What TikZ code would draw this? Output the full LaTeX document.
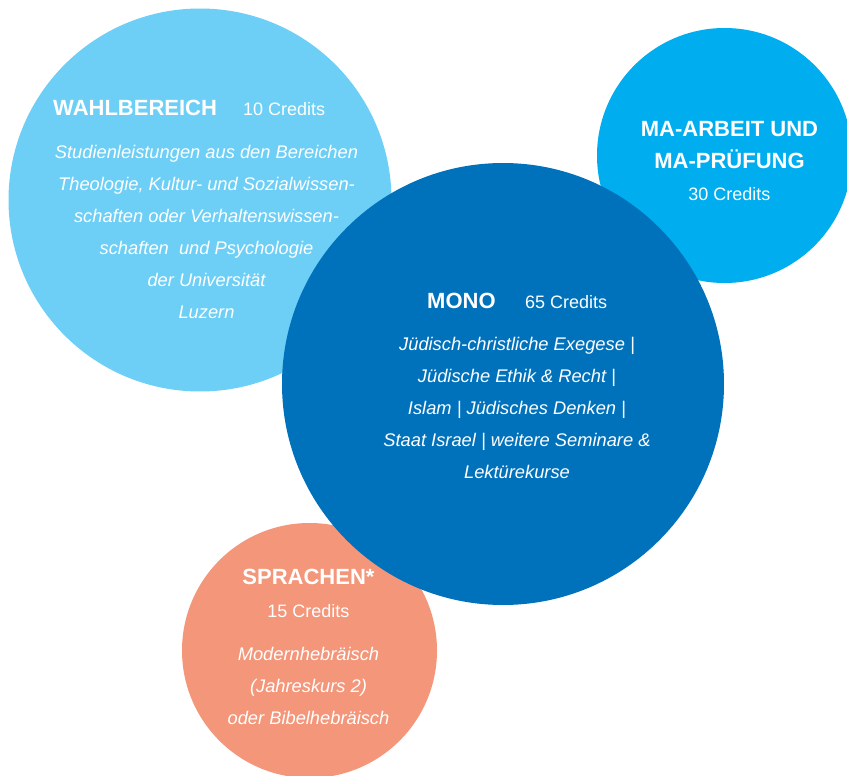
\documentclass[tikz,border=0pt]{standalone}
\usepackage{fontspec}
\setmainfont{Liberation Sans}
\definecolor{cLight}{HTML}{6DCFF6}
\definecolor{cMA}{HTML}{00AEEF}
\definecolor{cMono}{HTML}{0072BC}
\definecolor{cSpr}{HTML}{F4967A}
\begin{document}
\begin{tikzpicture}[x=1pt,y=-1pt,
  bubble/.style={circle,inner sep=0pt,outer sep=0pt},
  ttl/.style={inner sep=0pt,text=white,font=\fontsize{22}{24}\selectfont\bfseries},
  cred/.style={inner sep=0pt,text=white,font=\fontsize{18}{20}\selectfont},
  desc/.style={inner sep=0pt,text=white,font=\fontsize{18.3}{20}\selectfont\itshape}]
\useasboundingbox (0,0) rectangle (847,776);
\begin{scope}
\clip (0,0) rectangle (847,776);
\fill[cLight] (200,200) circle (191.5);
\fill[cMA] (724.5,155.5) circle (127.5);
\fill[cSpr] (309.5,650.5) circle (127.5);
\fill[cMono] (503,384) circle (221);
\end{scope}
\node[bubble,minimum size=383] (wahl) at (200,200) {};
\node[bubble,minimum size=255] (ma) at (724.5,155.5) {};
\node[bubble,minimum size=255] (spr) at (309.5,650.5) {};
\node[bubble,minimum size=442] (mono) at (503,384) {};
% Wahlbereich
\node[ttl,anchor=base west] (wt) at (53,115) {WAHLBEREICH};
\node[cred,anchor=base west] (wc) at (243,115) {10 Credits};
\node[desc,anchor=base] (w1) at (206.5,158) {Studienleistungen aus den Bereichen};
\node[desc,anchor=base] (w2) at (206.5,190) {Theologie, Kultur- und Sozialwissen-};
\node[desc,anchor=base] (w3) at (206.5,222) {schaften oder Verhaltenswissen-};
\node[desc,anchor=base] (w4) at (206.5,254) {schaften\ \ und Psychologie};
\node[desc,anchor=base] (w5) at (206.5,286) {der Universität};
\node[desc,anchor=base] (w6) at (206.5,318) {Luzern};
% MA
\node[ttl,anchor=base] (m1) at (729.5,136.5) {MA-ARBEIT UND};
\node[ttl,anchor=base] (m2) at (729.5,168) {MA-PRÜFUNG};
\node[cred,anchor=base] (m3) at (729.5,200) {30 Credits};
% Mono
\node[ttl,anchor=base west] (ot) at (427,308) {MONO};
\node[cred,anchor=base west] (oc) at (525,308) {65 Credits};
\node[desc,anchor=base] (o1) at (517,350) {Jüdisch-christliche Exegese |};
\node[desc,anchor=base] (o2) at (517,382) {Jüdische Ethik \& Recht |};
\node[desc,anchor=base] (o3) at (517,414) {Islam | Jüdisches Denken |};
\node[desc,anchor=base] (o4) at (517,446) {Staat Israel | weitere Seminare \&};
\node[desc,anchor=base] (o5) at (517,478) {Lektürekurse};
% Sprachen
\node[ttl,anchor=base] (st) at (308.5,584) {SPRACHEN*};
\node[cred,anchor=base] (sc) at (308.5,617) {15 Credits};
\node[desc,anchor=base] (s1) at (308.5,660) {Modernhebräisch};
\node[desc,anchor=base] (s2) at (308.5,692) {(Jahreskurs 2)};
\node[desc,anchor=base] (s3) at (308.5,724) {oder Bibelhebräisch};
\end{tikzpicture}
\end{document}
